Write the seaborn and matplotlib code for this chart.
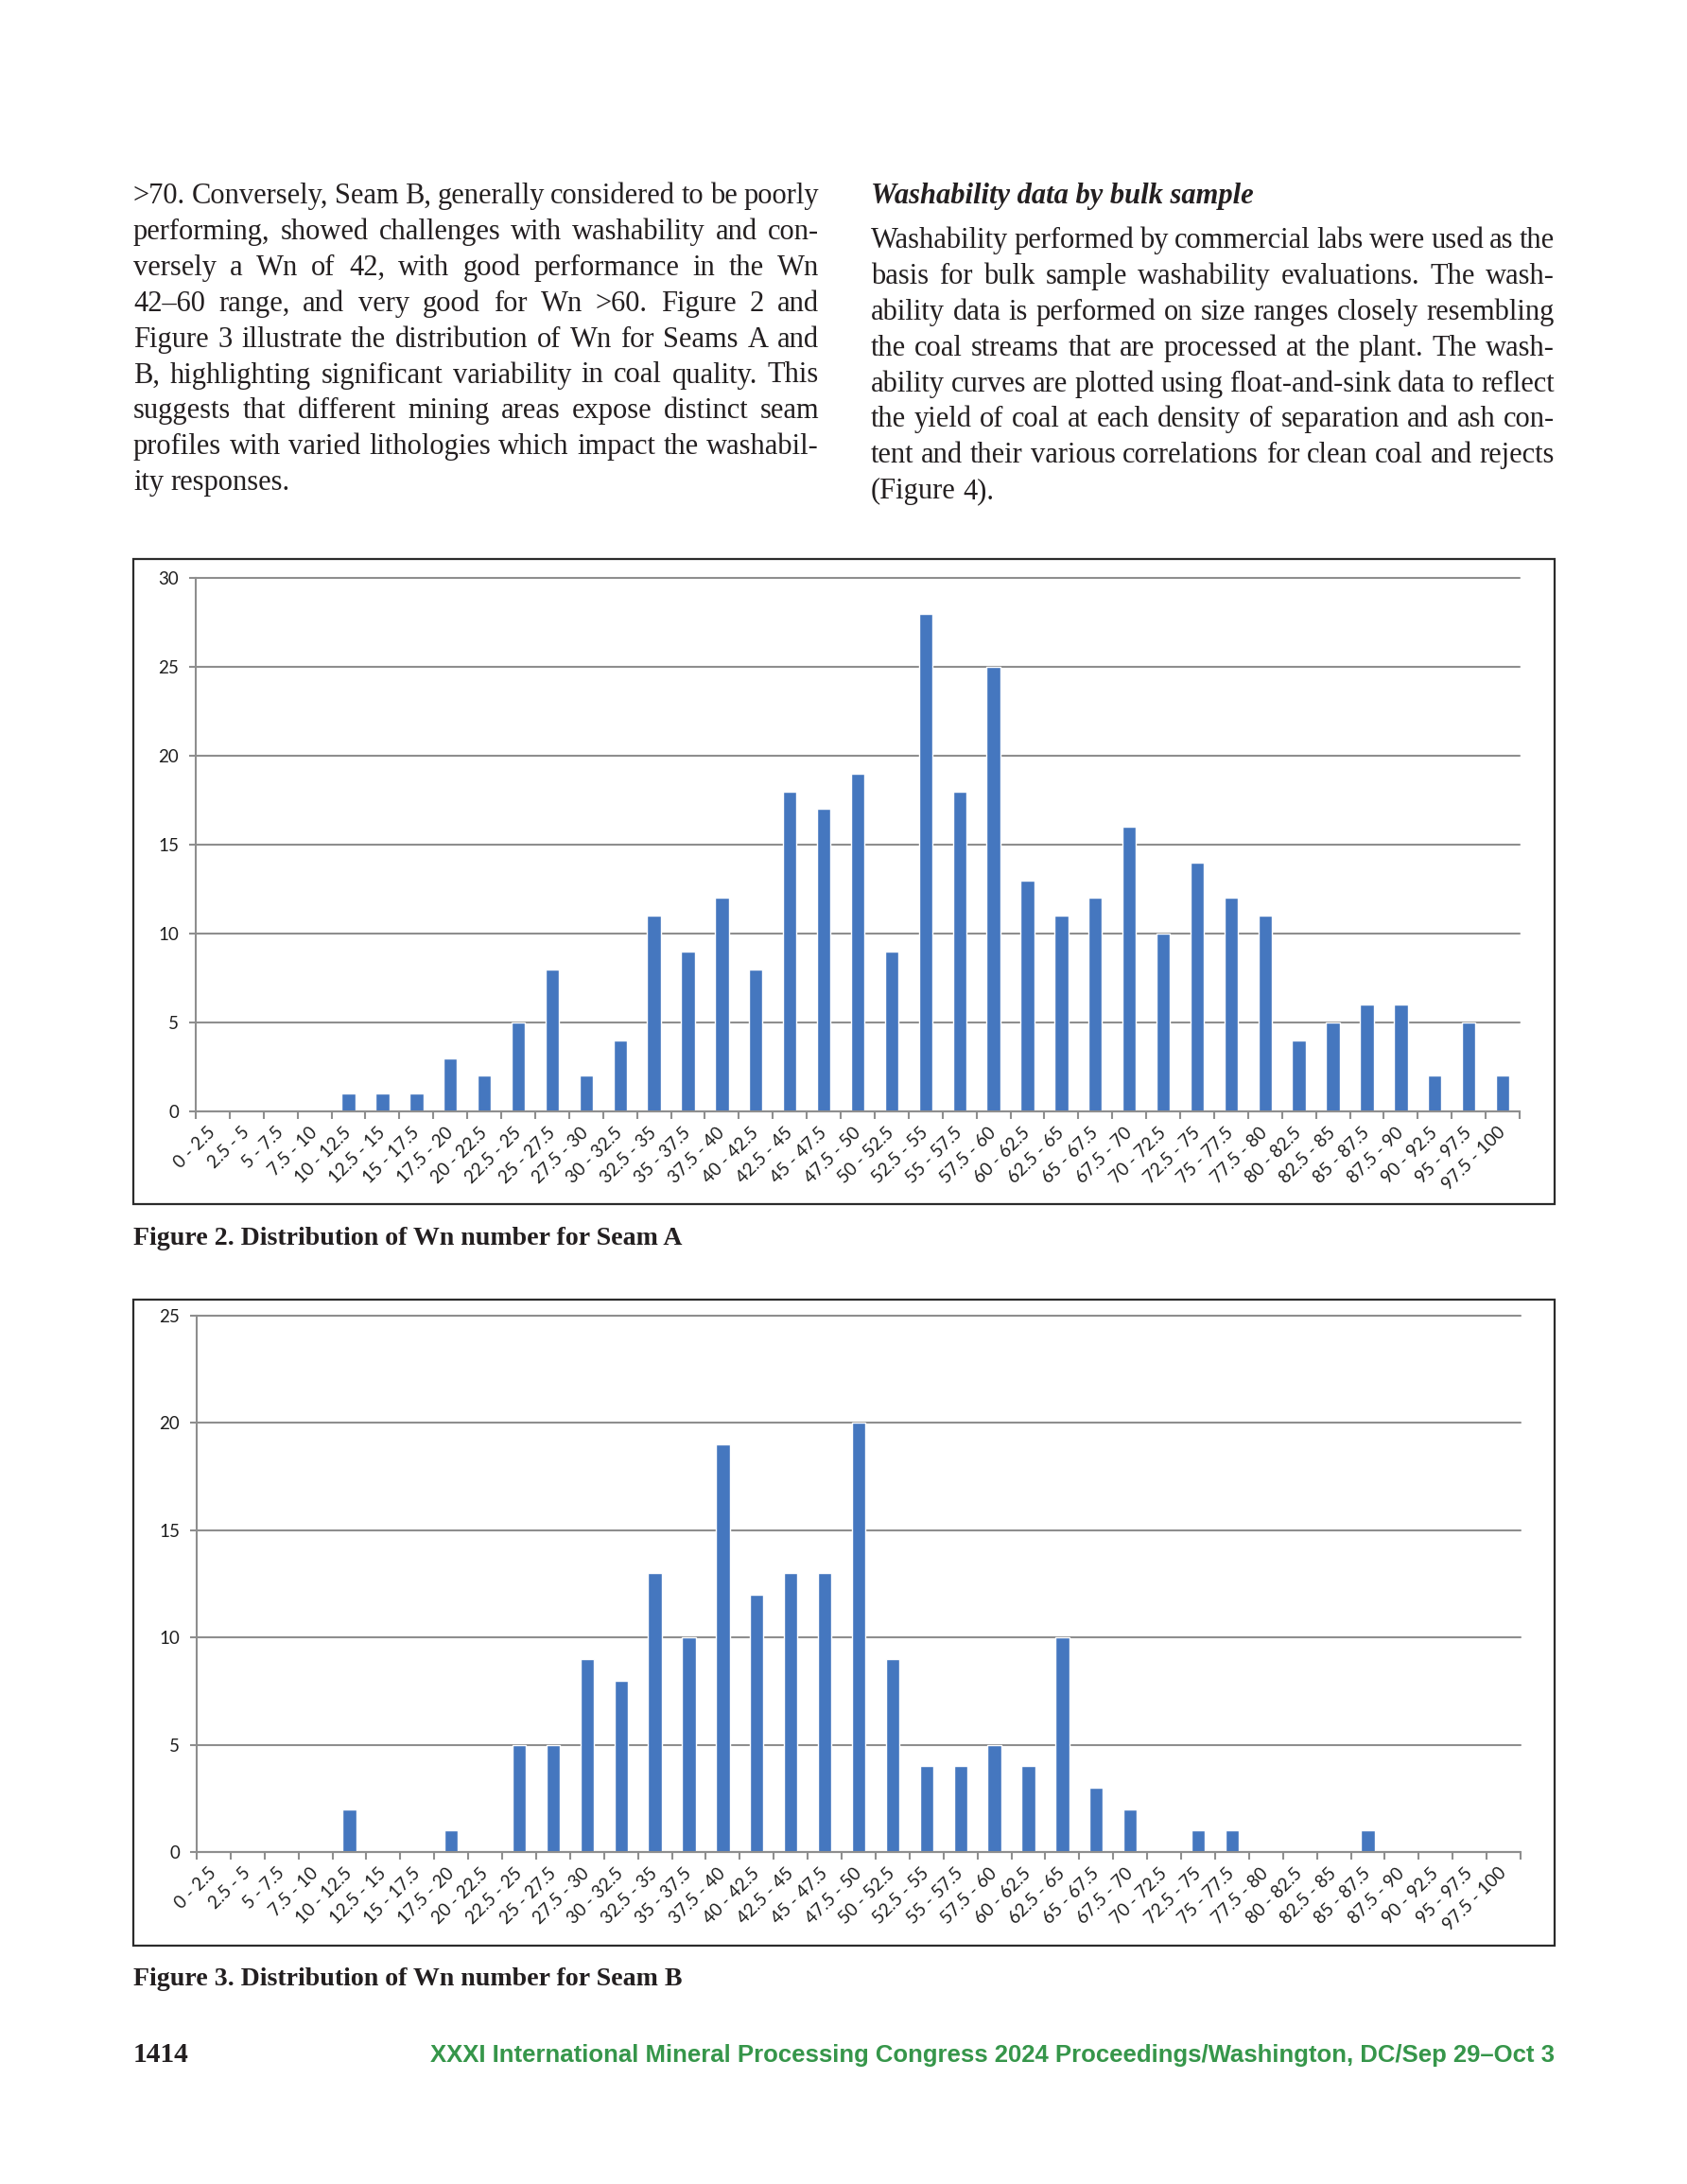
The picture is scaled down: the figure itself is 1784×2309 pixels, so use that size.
import numpy as np
import matplotlib
matplotlib.use("Agg")
import matplotlib.pyplot as plt
import seaborn as sns
from matplotlib.patches import Rectangle
from matplotlib.ticker import FixedLocator

# Wn bins (note: the source has no 92.5 - 95 bin)
bins = ["0 - 2.5", "2.5 - 5", "5 - 7.5", "7.5 - 10", "10 - 12.5", "12.5 - 15",
        "15 - 17.5", "17.5 - 20", "20 - 22.5", "22.5 - 25", "25 - 27.5", "27.5 - 30",
        "30 - 32.5", "32.5 - 35", "35 - 37.5", "37.5 - 40", "40 - 42.5", "42.5 - 45",
        "45 - 47.5", "47.5 - 50", "50 - 52.5", "52.5 - 55", "55 - 57.5", "57.5 - 60",
        "60 - 62.5", "62.5 - 65", "65 - 67.5", "67.5 - 70", "70 - 72.5", "72.5 - 75",
        "75 - 77.5", "77.5 - 80", "80 - 82.5", "82.5 - 85", "85 - 87.5", "87.5 - 90",
        "90 - 92.5", "95 - 97.5", "97.5 - 100"]
seam_a = [0, 0, 0, 0, 1, 1, 1, 3, 2, 5, 8, 2, 4, 11, 9, 12, 8, 18, 17, 19,
          9, 28, 18, 25, 13, 11, 12, 16, 10, 14, 12, 11, 4, 5, 6, 6, 2, 5, 2]
seam_b = [0, 0, 0, 0, 2, 0, 0, 1, 0, 5, 5, 9, 8, 13, 10, 19, 12, 13, 13, 20,
          9, 4, 4, 5, 4, 10, 3, 2, 0, 1, 1, 0, 0, 0, 1, 0, 0, 0, 0]

left_lines = [
    ">70. Conversely, Seam B, generally considered to be poorly",
    "performing, showed challenges with washability and con-",
    "versely a Wn of 42, with good performance in the Wn",
    "42\u201360 range, and very good for Wn >60. Figure 2 and",
    "Figure 3 illustrate the distribution of Wn for Seams A and",
    "B, highlighting significant variability in coal quality. This",
    "suggests that different mining areas expose distinct seam",
    "profiles with varied lithologies which impact the washabil-",
    "ity responses.",
]
right_heading = "Washability data by bulk sample"
right_lines = [
    "Washability performed by commercial labs were used as the",
    "basis for bulk sample washability evaluations. The wash-",
    "ability data is performed on size ranges closely resembling",
    "the coal streams that are processed at the plant. The wash-",
    "ability curves are plotted using float-and-sink data to reflect",
    "the yield of coal at each density of separation and ash con-",
    "tent and their various correlations for clean coal and rejects",
    "(Figure 4).",
]
caption_a = "Figure 2. Distribution of Wn number for Seam A"
caption_b = "Figure 3. Distribution of Wn number for Seam B"
page_no = "1414"
footer = "XXXI International Mineral Processing Congress 2024 Proceedings/Washington, DC/Sep 29\u2013Oct 3"

sns.set_theme(style="white")
plt.rcParams["font.family"] = ["Liberation Serif", "DejaVu Serif"]

W, H = 1784, 2309
fig = plt.figure(figsize=(W / 100, H / 100), dpi=100)
fig.patch.set_facecolor("white")
rend = fig.canvas.get_renderer()
ink = "#231f20"


def fx(x):
    return x / W


def fy(y):
    return 1 - y / H


def fit(t, width):
    # scale the font so the text spans the given pixel width
    w = t.get_window_extent(rend).width
    t.set_fontsize(t.get_fontsize() * width / w)


def justify(lines, x0, x1, y0, step, size):
    for i, line in enumerate(lines):
        y = y0 + i * step
        words = line.split()
        objs = [fig.text(0, fy(y), w, fontsize=size, va="baseline", color=ink)
                for w in words]
        widths = [o.get_window_extent(rend).width for o in objs]
        if i == len(lines) - 1:
            gap = size * 0.25 * 100 / 72
        else:
            gap = (x1 - x0 - sum(widths)) / (len(words) - 1)
        x = x0
        for o, w in zip(objs, widths):
            o.set_x(fx(x))
            x += w + gap


# body text
justify(left_lines, 141, 866, 215, 37.9, 22)
fig.text(fx(921), fy(215), right_heading, fontsize=22, fontweight="bold",
         fontstyle="italic", va="baseline", color=ink)
justify(right_lines, 921, 1644, 262, 37.9, 22)


def chart(l, t, r, b, frame, values, ymax):
    ax = fig.add_axes([fx(l), fy(b), fx(r - l), (b - t) / H])
    sns.barplot(x=bins, y=values, color="#4577bf", width=0.4, saturation=1, ax=ax)
    ax.set_xlim(-0.5, len(bins) - 0.5)
    ax.set_ylim(0, ymax)
    ax.set_yticks(range(0, ymax + 1, 5))
    ax.set_xlabel("")
    ax.set_ylabel("")
    ax.set_axisbelow(True)
    ax.yaxis.grid(True, color="#8e8e8e", lw=1.5)
    ax.xaxis.grid(False)
    for g in ax.get_ygridlines():
        g.set_clip_on(False)
    for s in ["top", "right"]:
        ax.spines[s].set_visible(False)
    for s in ["left", "bottom"]:
        ax.spines[s].set_color("#8e8e8e")
        ax.spines[s].set_linewidth(1.5)
    ax.set_xticks(range(len(bins)))
    ax.set_xticklabels(bins, rotation=45, ha="right", va="center",
                       rotation_mode="anchor", family="Lato", fontsize=13.5,
                       color="#1e1e1e")
    ax.tick_params(axis="x", which="major", length=0, pad=14, bottom=True)
    ax.xaxis.set_minor_locator(FixedLocator(np.arange(-0.5, len(bins), 1)))
    ax.tick_params(axis="x", which="minor", length=6, width=1.5,
                   color="#8e8e8e", direction="out", bottom=True)
    ax.tick_params(axis="y", length=5, width=1.5, color="#8e8e8e", left=True,
                   direction="out", pad=8, labelsize=13.5, labelcolor="#1e1e1e")
    for lab in ax.get_yticklabels():
        lab.set_family("Lato")
    fl, ft, fr, fb = frame
    fig.add_artist(Rectangle((fx(fl), fy(fb)), fx(fr - fl), (fb - ft) / H,
                             transform=fig.transFigure, fill=False,
                             edgecolor="#2b2b2b", lw=1.6))
    return ax


chart(207, 611, 1607, 1175, (141, 591, 1644, 1273), seam_a, 30)
chart(208, 1391, 1608, 1958, (141, 1374, 1644, 2057), seam_b, 25)

# captions and footer
c1 = fig.text(fx(141), fy(1316), caption_a, fontsize=20, fontweight="bold",
              va="baseline", color=ink)
fit(c1, 581)
c2 = fig.text(fx(141), fy(2099), caption_b, fontsize=20, fontweight="bold",
              va="baseline", color=ink)
fit(c2, 581)
pn = fig.text(fx(141), fy(2180), page_no, fontsize=20, fontweight="bold",
              va="baseline", color=ink)
fit(pn, 59)
ft = fig.text(fx(1644), fy(2180), footer, fontsize=18, fontweight="bold",
              ha="right", va="baseline", color="#36964a",
              family=["Liberation Sans Narrow", "Liberation Sans"])
fit(ft, 1192)

fig.savefig("out.png", dpi=100, facecolor="white")
